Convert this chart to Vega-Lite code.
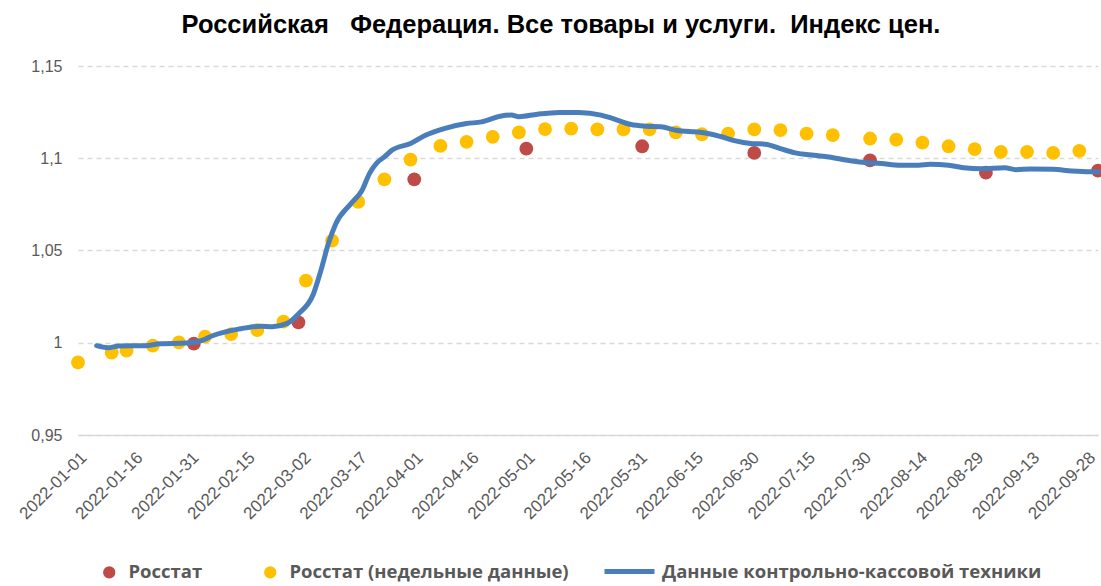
{
  "$schema": "https://vega.github.io/schema/vega-lite/v6.json",
  "autosize": "none",
  "width": 1020,
  "height": 369,
  "padding": {"left": 78, "top": 66, "right": 3, "bottom": 151},
  "background": "white",
  "title": {
    "text": "Российская\u00a0\u00a0 Федерация. Все товары и услуги.\u00a0 Индекс цен.",
    "font": "Liberation Sans",
    "fontSize": 25.5,
    "fontWeight": "bold",
    "color": "#000000",
    "anchor": "middle",
    "dx": -27,
    "offset": 20
  },
  "config": {
    "view": {"stroke": null},
    "font": "Liberation Sans"
  },
  "datasets": {
    "monthly": [
      {"date": "2022-02-01", "v": 0.9995, "series": "Росстат"},
      {"date": "2022-03-01", "v": 1.011, "series": "Росстат"},
      {"date": "2022-04-01", "v": 1.0886, "series": "Росстат"},
      {"date": "2022-05-01", "v": 1.1052, "series": "Росстат"},
      {"date": "2022-06-01", "v": 1.1065, "series": "Росстат"},
      {"date": "2022-07-01", "v": 1.1029, "series": "Росстат"},
      {"date": "2022-08-01", "v": 1.0989, "series": "Росстат"},
      {"date": "2022-09-01", "v": 1.0922, "series": "Росстат"},
      {"date": "2022-10-01", "v": 1.0933, "series": "Росстат"}
    ],
    "weekly": [
      {"date": "2022-01-01", "v": 0.9893, "series": "Росстат (недельные данные)"},
      {"date": "2022-01-10", "v": 0.9947, "series": "Росстат (недельные данные)"},
      {"date": "2022-01-14", "v": 0.9957, "series": "Росстат (недельные данные)"},
      {"date": "2022-01-21", "v": 0.9984, "series": "Росстат (недельные данные)"},
      {"date": "2022-01-28", "v": 1.0002, "series": "Росстат (недельные данные)"},
      {"date": "2022-02-04", "v": 1.0033, "series": "Росстат (недельные данные)"},
      {"date": "2022-02-11", "v": 1.0047, "series": "Росстат (недельные данные)"},
      {"date": "2022-02-18", "v": 1.0069, "series": "Росстат (недельные данные)"},
      {"date": "2022-02-25", "v": 1.0114, "series": "Росстат (недельные данные)"},
      {"date": "2022-03-03", "v": 1.0337, "series": "Росстат (недельные данные)"},
      {"date": "2022-03-10", "v": 1.0554, "series": "Росстат (недельные данные)"},
      {"date": "2022-03-17", "v": 1.0763, "series": "Росстат (недельные данные)"},
      {"date": "2022-03-24", "v": 1.0886, "series": "Росстат (недельные данные)"},
      {"date": "2022-03-31", "v": 1.0993, "series": "Росстат (недельные данные)"},
      {"date": "2022-04-08", "v": 1.1067, "series": "Росстат (недельные данные)"},
      {"date": "2022-04-15", "v": 1.1089, "series": "Росстат (недельные данные)"},
      {"date": "2022-04-22", "v": 1.1116, "series": "Росстат (недельные данные)"},
      {"date": "2022-04-29", "v": 1.114, "series": "Росстат (недельные данные)"},
      {"date": "2022-05-06", "v": 1.1158, "series": "Росстат (недельные данные)"},
      {"date": "2022-05-13", "v": 1.1161, "series": "Росстат (недельные данные)"},
      {"date": "2022-05-20", "v": 1.1156, "series": "Росстат (недельные данные)"},
      {"date": "2022-05-27", "v": 1.1156, "series": "Росстат (недельные данные)"},
      {"date": "2022-06-03", "v": 1.1156, "series": "Росстат (недельные данные)"},
      {"date": "2022-06-10", "v": 1.114, "series": "Росстат (недельные данные)"},
      {"date": "2022-06-17", "v": 1.113, "series": "Росстат (недельные данные)"},
      {"date": "2022-06-24", "v": 1.1134, "series": "Росстат (недельные данные)"},
      {"date": "2022-07-01", "v": 1.1156, "series": "Росстат (недельные данные)"},
      {"date": "2022-07-08", "v": 1.1152, "series": "Росстат (недельные данные)"},
      {"date": "2022-07-15", "v": 1.1134, "series": "Росстат (недельные данные)"},
      {"date": "2022-07-22", "v": 1.1125, "series": "Росстат (недельные данные)"},
      {"date": "2022-08-01", "v": 1.1107, "series": "Росстат (недельные данные)"},
      {"date": "2022-08-08", "v": 1.1101, "series": "Росстат (недельные данные)"},
      {"date": "2022-08-15", "v": 1.1085, "series": "Росстат (недельные данные)"},
      {"date": "2022-08-22", "v": 1.1065, "series": "Росстат (недельные данные)"},
      {"date": "2022-08-29", "v": 1.1049, "series": "Росстат (недельные данные)"},
      {"date": "2022-09-05", "v": 1.1035, "series": "Росстат (недельные данные)"},
      {"date": "2022-09-12", "v": 1.1035, "series": "Росстат (недельные данные)"},
      {"date": "2022-09-19", "v": 1.1029, "series": "Росстат (недельные данные)"},
      {"date": "2022-09-26", "v": 1.104, "series": "Росстат (недельные данные)"}
    ],
    "kkt": [
      {"date": "2022-01-06", "v": 0.9984, "series": "Данные контрольно-кассовой техники"},
      {"date": "2022-01-09", "v": 0.9973, "series": "Данные контрольно-кассовой техники"},
      {"date": "2022-01-12", "v": 0.9983, "series": "Данные контрольно-кассовой техники"},
      {"date": "2022-01-19", "v": 0.9984, "series": "Данные контрольно-кассовой техники"},
      {"date": "2022-01-23", "v": 0.9995, "series": "Данные контрольно-кассовой техники"},
      {"date": "2022-01-30", "v": 0.9998, "series": "Данные контрольно-кассовой техники"},
      {"date": "2022-02-03", "v": 1.0011, "series": "Данные контрольно-кассовой техники"},
      {"date": "2022-02-06", "v": 1.0038, "series": "Данные контрольно-кассовой техники"},
      {"date": "2022-02-13", "v": 1.0074, "series": "Данные контрольно-кассовой техники"},
      {"date": "2022-02-19", "v": 1.0089, "series": "Данные контрольно-кассовой техники"},
      {"date": "2022-02-22", "v": 1.0087, "series": "Данные контрольно-кассовой техники"},
      {"date": "2022-02-26", "v": 1.0105, "series": "Данные контрольно-кассовой техники"},
      {"date": "2022-03-01", "v": 1.0156, "series": "Данные контрольно-кассовой техники"},
      {"date": "2022-03-05", "v": 1.0264, "series": "Данные контрольно-кассовой техники"},
      {"date": "2022-03-07", "v": 1.0391, "series": "Данные контрольно-кассовой техники"},
      {"date": "2022-03-09", "v": 1.0536, "series": "Данные контрольно-кассовой техники"},
      {"date": "2022-03-11", "v": 1.0645, "series": "Данные контрольно-кассовой техники"},
      {"date": "2022-03-15", "v": 1.0753, "series": "Данные контрольно-кассовой техники"},
      {"date": "2022-03-18", "v": 1.0825, "series": "Данные контрольно-кассовой техники"},
      {"date": "2022-03-20", "v": 1.0917, "series": "Данные контрольно-кассовой техники"},
      {"date": "2022-03-22", "v": 1.0975, "series": "Данные контрольно-кассовой техники"},
      {"date": "2022-03-24", "v": 1.1007, "series": "Данные контрольно-кассовой техники"},
      {"date": "2022-03-26", "v": 1.1043, "series": "Данные контрольно-кассовой техники"},
      {"date": "2022-03-31", "v": 1.108, "series": "Данные контрольно-кассовой техники"},
      {"date": "2022-04-04", "v": 1.1125, "series": "Данные контрольно-кассовой техники"},
      {"date": "2022-04-09", "v": 1.1161, "series": "Данные контрольно-кассовой техники"},
      {"date": "2022-04-15", "v": 1.1188, "series": "Данные контрольно-кассовой техники"},
      {"date": "2022-04-19", "v": 1.1197, "series": "Данные контрольно-кассовой техники"},
      {"date": "2022-04-24", "v": 1.1228, "series": "Данные контрольно-кассовой техники"},
      {"date": "2022-04-27", "v": 1.1234, "series": "Данные контрольно-кассовой техники"},
      {"date": "2022-04-29", "v": 1.1225, "series": "Данные контрольно-кассовой техники"},
      {"date": "2022-05-04", "v": 1.1239, "series": "Данные контрольно-кассовой техники"},
      {"date": "2022-05-10", "v": 1.1248, "series": "Данные контрольно-кассовой техники"},
      {"date": "2022-05-15", "v": 1.1248, "series": "Данные контрольно-кассовой техники"},
      {"date": "2022-05-21", "v": 1.1234, "series": "Данные контрольно-кассовой техники"},
      {"date": "2022-05-24", "v": 1.1216, "series": "Данные контрольно-кассовой техники"},
      {"date": "2022-05-29", "v": 1.1183, "series": "Данные контрольно-кассовой техники"},
      {"date": "2022-06-02", "v": 1.1174, "series": "Данные контрольно-кассовой техники"},
      {"date": "2022-06-06", "v": 1.1171, "series": "Данные контрольно-кассовой техники"},
      {"date": "2022-06-10", "v": 1.1152, "series": "Данные контрольно-кассовой техники"},
      {"date": "2022-06-15", "v": 1.1143, "series": "Данные контрольно-кассовой техники"},
      {"date": "2022-06-17", "v": 1.114, "series": "Данные контрольно-кассовой техники"},
      {"date": "2022-06-22", "v": 1.1118, "series": "Данные контрольно-кассовой техники"},
      {"date": "2022-06-26", "v": 1.1094, "series": "Данные контрольно-кассовой техники"},
      {"date": "2022-06-30", "v": 1.108, "series": "Данные контрольно-кассовой техники"},
      {"date": "2022-07-04", "v": 1.1076, "series": "Данные контрольно-кассовой техники"},
      {"date": "2022-07-08", "v": 1.1052, "series": "Данные контрольно-кассовой техники"},
      {"date": "2022-07-12", "v": 1.1029, "series": "Данные контрольно-кассовой техники"},
      {"date": "2022-07-17", "v": 1.1016, "series": "Данные контрольно-кассовой техники"},
      {"date": "2022-07-21", "v": 1.1007, "series": "Данные контрольно-кассовой техники"},
      {"date": "2022-07-26", "v": 1.0989, "series": "Данные контрольно-кассовой техники"},
      {"date": "2022-07-30", "v": 1.0978, "series": "Данные контрольно-кассовой техники"},
      {"date": "2022-08-04", "v": 1.0971, "series": "Данные контрольно-кассовой техники"},
      {"date": "2022-08-09", "v": 1.0962, "series": "Данные контрольно-кассовой техники"},
      {"date": "2022-08-14", "v": 1.0962, "series": "Данные контрольно-кассовой техники"},
      {"date": "2022-08-17", "v": 1.0967, "series": "Данные контрольно-кассовой техники"},
      {"date": "2022-08-22", "v": 1.0962, "series": "Данные контрольно-кассовой техники"},
      {"date": "2022-08-26", "v": 1.0949, "series": "Данные контрольно-кассовой техники"},
      {"date": "2022-08-31", "v": 1.0943, "series": "Данные контрольно-кассовой техники"},
      {"date": "2022-09-06", "v": 1.0949, "series": "Данные контрольно-кассовой техники"},
      {"date": "2022-09-09", "v": 1.0938, "series": "Данные контрольно-кассовой техники"},
      {"date": "2022-09-13", "v": 1.0942, "series": "Данные контрольно-кассовой техники"},
      {"date": "2022-09-19", "v": 1.094, "series": "Данные контрольно-кассовой техники"},
      {"date": "2022-09-24", "v": 1.0931, "series": "Данные контрольно-кассовой техники"},
      {"date": "2022-09-29", "v": 1.0927, "series": "Данные контрольно-кассовой техники"},
      {"date": "2022-10-01", "v": 1.0927, "series": "Данные контрольно-кассовой техники"}
    ]
  },
  "encoding": {
    "x": {
      "field": "date",
      "type": "temporal",
      "scale": {"type": "utc", "domain": [{"year": 2022, "month": 1, "date": 1, "utc": true}, {"year": 2022, "month": 10, "date": 1, "utc": true}]},
      "axis": {
        "title": null,
        "values": [
          {"year": 2022, "month": 1, "date": 1, "utc": true},
          {"year": 2022, "month": 1, "date": 16, "utc": true},
          {"year": 2022, "month": 1, "date": 31, "utc": true},
          {"year": 2022, "month": 2, "date": 15, "utc": true},
          {"year": 2022, "month": 3, "date": 2, "utc": true},
          {"year": 2022, "month": 3, "date": 17, "utc": true},
          {"year": 2022, "month": 4, "date": 1, "utc": true},
          {"year": 2022, "month": 4, "date": 16, "utc": true},
          {"year": 2022, "month": 5, "date": 1, "utc": true},
          {"year": 2022, "month": 5, "date": 16, "utc": true},
          {"year": 2022, "month": 5, "date": 31, "utc": true},
          {"year": 2022, "month": 6, "date": 15, "utc": true},
          {"year": 2022, "month": 6, "date": 30, "utc": true},
          {"year": 2022, "month": 7, "date": 15, "utc": true},
          {"year": 2022, "month": 7, "date": 30, "utc": true},
          {"year": 2022, "month": 8, "date": 14, "utc": true},
          {"year": 2022, "month": 8, "date": 29, "utc": true},
          {"year": 2022, "month": 9, "date": 13, "utc": true},
          {"year": 2022, "month": 9, "date": 28, "utc": true}
        ],
        "labelExpr": "utcFormat(datum.value, '%Y-%m-%d')",
        "labelAngle": -45,
        "labelAlign": "right",
        "labelBaseline": "top",
        "labelFontSize": 17,
        "labelColor": "#595959",
        "labelPadding": 14,
        "labelOverlap": false,
        "labelBound": false,
        "labelFlush": false,
        "ticks": false,
        "grid": false,
        "domainColor": "#d9d9d9",
        "domainWidth": 1.5
      }
    },
    "y": {
      "field": "v",
      "type": "quantitative",
      "scale": {"domain": [0.95, 1.15], "zero": false, "nice": false},
      "axis": {
        "title": null,
        "values": [0.95, 1, 1.05, 1.1, 1.15],
        "labelExpr": "replace(toString(datum.value), '.', ',')",
        "labelFontSize": 16,
        "labelColor": "#595959",
        "labelPadding": 16,
        "ticks": false,
        "domain": false,
        "grid": true,
        "gridColor": "#d9d9d9",
        "gridDash": [5, 4],
        "gridWidth": 1.3
      }
    }
  },
  "layer": [
    {
      "data": {"name": "monthly"},
      "mark": {"type": "point", "filled": true, "size": 190, "opacity": 1},
      "encoding": {
        "color": {
          "field": "series",
          "type": "nominal",
          "scale": {
            "domain": ["Росстат", "Росстат (недельные данные)"],
            "range": ["#be4b48", "#ffc000"]
          },
          "legend": {
            "title": null,
            "orient": "none",
            "legendX": 22,
            "legendY": 497,
            "direction": "horizontal",
            "labelFont": "Open Sans",
            "labelFontSize": 18.5,
            "labelFontWeight": "bold",
            "labelColor": "#595959",
            "labelLimit": 500,
            "labelOffset": 10,
            "columnPadding": 58,
            "symbolType": "circle",
            "symbolSize": 150,
            "symbolOpacity": 1
          }
        }
      }
    },
    {
      "data": {"name": "weekly"},
      "mark": {"type": "point", "filled": true, "size": 190, "opacity": 1},
      "encoding": {
        "color": {"field": "series", "type": "nominal"}
      }
    },
    {
      "data": {"name": "kkt"},
      "mark": {"type": "line", "strokeWidth": 5, "strokeCap": "round", "strokeJoin": "round", "interpolate": "monotone"},
      "encoding": {
        "stroke": {
          "field": "series",
          "type": "nominal",
          "scale": {
            "domain": ["Данные контрольно-кассовой техники"],
            "range": ["#4a7ebb"]
          },
          "legend": {
            "title": null,
            "orient": "none",
            "legendX": 524,
            "legendY": 478,
            "direction": "horizontal",
            "labelFont": "Open Sans",
            "labelFontSize": 18.5,
            "labelFontWeight": "bold",
            "labelColor": "#595959",
            "labelLimit": 600,
            "labelOffset": 5,
            "symbolType": "stroke",
            "symbolSize": 2500,
            "symbolStrokeWidth": 5,
            "symbolOpacity": 1
          }
        }
      }
    }
  ]
}
